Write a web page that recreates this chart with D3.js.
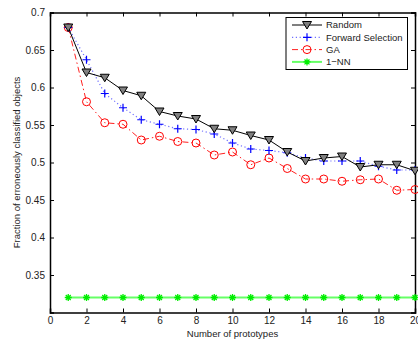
<!DOCTYPE html>
<html>
<head>
<meta charset="utf-8">
<script src="https://cdn.jsdelivr.net/npm/d3@7"></script>
<style>
  body { margin: 0; background: #fff; }
  svg { display: block; font-family: "Liberation Sans", Arial, sans-serif; }
</style>
</head>
<body>
<div id="chart"></div>
<script>
const prototypes = d3.range(1, 21);
const randomVals = [0.680, 0.620, 0.613, 0.596, 0.589, 0.568, 0.562, 0.558, 0.545, 0.543,
                    0.536, 0.530, 0.514, 0.502, 0.506, 0.508, 0.494, 0.497, 0.497, 0.489];
const forwardVals = [0.680, 0.637, 0.592, 0.573, 0.557, 0.551, 0.545, 0.544, 0.538, 0.526,
                     0.518, 0.516, 0.513, 0.506, 0.502, 0.502, 0.502, 0.495, 0.490, 0.490];
const gaVals = [0.680, 0.581, 0.553, 0.551, 0.530, 0.535, 0.528, 0.526, 0.510, 0.514,
                0.497, 0.506, 0.492, 0.478, 0.478, 0.475, 0.477, 0.478, 0.463, 0.464];
const nnVals = prototypes.map(() => 0.32);
const xTicks = d3.range(0, 21, 2);
const yTicks = [0.35, 0.4, 0.45, 0.5, 0.55, 0.6, 0.65, 0.7];

const W = 418, H = 339;
const margin = { top: 12.5, right: 3, bottom: 26.5, left: 50 };
const width = W - margin.left - margin.right;
const height = H - margin.top - margin.bottom;

const svg = d3.select('#chart').append('svg')
  .attr('width', W).attr('height', H);
const g = svg.append('g')
  .attr('transform', `translate(${margin.left},${margin.top})`);

const x = d3.scaleLinear().domain([0, 20]).range([0, width]);
const y = d3.scaleLinear().domain([0.3, 0.7]).range([height, 0]);

// axes with inward ticks (box style)
const tickLen = 4;
g.append('g').attr('transform', `translate(0,${height})`)
  .call(d3.axisBottom(x).tickValues(xTicks).tickSize(-tickLen).tickPadding(4).tickFormat(d3.format('d')));
g.append('g')
  .call(d3.axisTop(x).tickValues(xTicks).tickSize(-tickLen).tickFormat(''));
g.append('g')
  .call(d3.axisLeft(y).tickValues(yTicks).tickSize(-tickLen).tickPadding(5).tickFormat(d => String(d)));
g.append('g').attr('transform', `translate(${width},0)`)
  .call(d3.axisRight(y).tickValues(yTicks).tickSize(-tickLen).tickFormat(''));

g.selectAll('.domain').attr('stroke', '#000').attr('stroke-width', 1.5);
g.selectAll('.tick line').attr('stroke', '#000');
g.selectAll('.tick text').attr('font-size', 10).attr('fill', '#222');

const line = d3.line().x((d, i) => x(prototypes[i])).y(d => y(d));

const series = [
  { name: 'Random', vals: randomVals, color: '#000', dash: null, width: 1, marker: 'tri' },
  { name: 'Forward Selection', vals: forwardVals, color: '#6f6fff', dash: '1.2,2.6', width: 1.2, marker: 'plus' },
  { name: 'GA', vals: gaVals, color: '#ff2020', dash: '6,3,1.5,3', width: 1, marker: 'circle' },
  { name: '1\u2212NN', vals: nnVals, color: '#66ff66', dash: null, width: 2, marker: 'star' }
];

function drawMarker(sel, type, cx, cy) {
  if (type === 'tri') {
    sel.append('path')
      .attr('d', `M${cx - 4.5},${cy - 3.5}L${cx + 4.5},${cy - 3.5}L${cx},${cy + 4}Z`)
      .attr('fill', '#808080').attr('stroke', '#000').attr('stroke-width', 1);
  } else if (type === 'plus') {
    sel.append('path')
      .attr('d', `M${cx - 4},${cy}H${cx + 4}M${cx},${cy - 4}V${cy + 4}`)
      .attr('stroke', '#0000ff').attr('stroke-width', 1.2).attr('fill', 'none');
  } else if (type === 'circle') {
    sel.append('circle').attr('cx', cx).attr('cy', cy).attr('r', 4)
      .attr('fill', 'none').attr('stroke', '#ff0000').attr('stroke-width', 1);
  } else if (type === 'star') {
    const r = 3.5, a = r * 0.707;
    sel.append('path')
      .attr('d', `M${cx - r},${cy}H${cx + r}M${cx},${cy - r}V${cy + r}M${cx - a},${cy - a}L${cx + a},${cy + a}M${cx - a},${cy + a}L${cx + a},${cy - a}`)
      .attr('stroke', '#00ee00').attr('stroke-width', 1.3).attr('fill', 'none');
  }
}

// draw from last to first so Random sits on top
series.slice().reverse().forEach(s => {
  g.append('path').datum(s.vals)
    .attr('d', line)
    .attr('fill', 'none')
    .attr('stroke', s.color)
    .attr('stroke-width', s.width)
    .attr('stroke-dasharray', s.dash);
  const mg = g.append('g');
  s.vals.forEach((v, i) => drawMarker(mg, s.marker, x(prototypes[i]), y(v)));
});

// legend
const lg = svg.append('g').attr('transform', 'translate(286,17.5)');
lg.append('rect').attr('width', 121.5).attr('height', 52)
  .attr('fill', '#fff').attr('stroke', '#000').attr('stroke-width', 1);
series.forEach((s, i) => {
  const cy = 7.5 + i * 12.3;
  lg.append('line').attr('x1', 6).attr('x2', 36).attr('y1', cy).attr('y2', cy)
    .attr('stroke', s.color).attr('stroke-width', s.width).attr('stroke-dasharray', s.dash);
  drawMarker(lg, s.marker, 21, cy);
  lg.append('text').attr('x', 40).attr('y', cy).attr('dy', '0.35em')
    .attr('font-size', 9.5).attr('fill', '#222').text(s.name);
});

// axis titles
svg.append('text')
  .attr('x', margin.left + width / 2).attr('y', H - 2)
  .attr('text-anchor', 'middle').attr('font-size', 9.5).attr('fill', '#222')
  .text('Number of prototypes');
svg.append('text')
  .attr('transform', `translate(20,${margin.top + height / 2}) rotate(-90)`)
  .attr('text-anchor', 'middle').attr('font-size', 9.5).attr('fill', '#222')
  .text('Fraction of erroneously classified objects');
</script>
</body>
</html>
